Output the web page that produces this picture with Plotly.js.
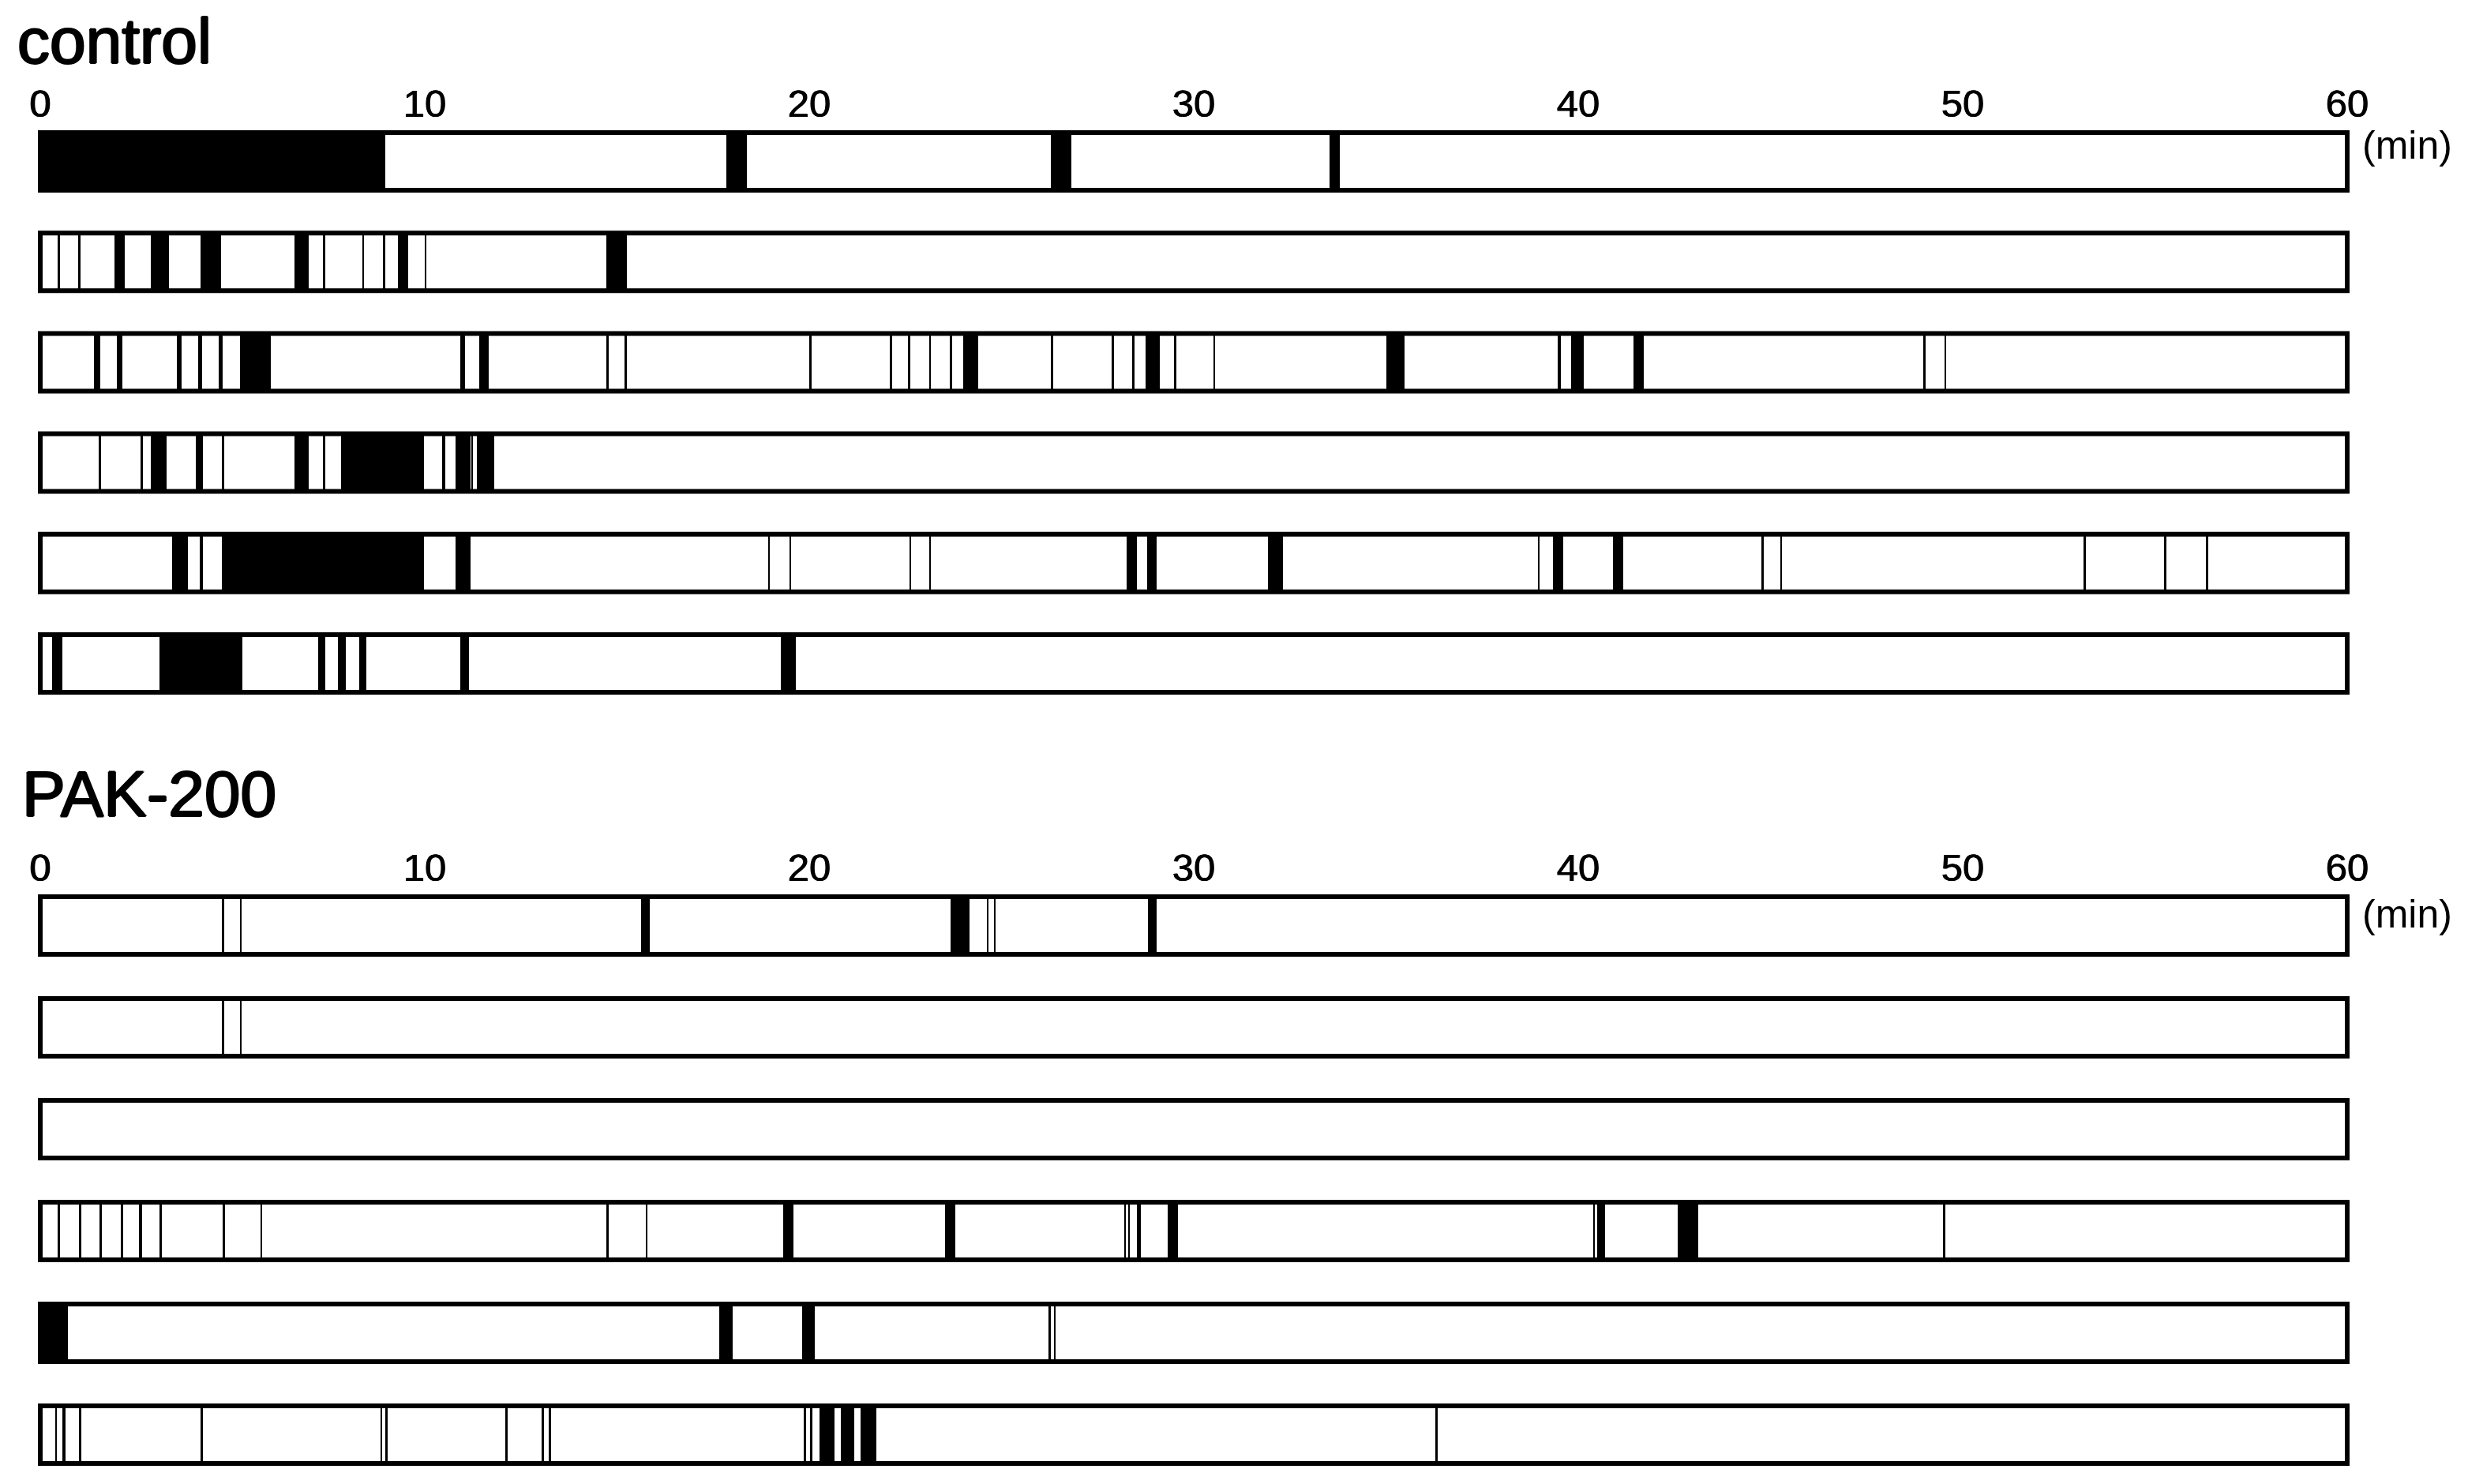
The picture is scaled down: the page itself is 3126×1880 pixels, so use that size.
<!DOCTYPE html>
<html>
<head>
<meta charset="utf-8">
<script src="https://cdn.plot.ly/plotly-3.0.1.min.js"></script>
<style>html,body{margin:0;padding:0;background:#fff;}</style>
</head>
<body>
<div id="chart" style="width:3126px;height:1880px;"></div>
<script>
// ---------------- data (minutes) ----------------
const timeTicks = [0, 10, 20, 30, 40, 50, 60];
const sessionLength = 60;
const groupNames = ['control', 'PAK-200'];
const unitLabel = '(min)';

// each event: [start, end] in minutes
const control1 = [[0, 8.97], [17.84, 18.37], [26.28, 26.82], [33.53, 33.80]];
const control2 = [[0.46, 0.51], [0.99, 1.05], [1.94, 2.20], [2.87, 3.35], [4.16, 4.70], [6.61, 6.99],
                  [7.35, 7.42], [8.37, 8.42], [8.92, 8.97], [9.30, 9.56], [9.99, 10.05], [14.72, 15.26]];
const control3 = [[1.40, 1.57], [2.00, 2.14], [3.56, 3.67], [4.10, 4.21], [4.64, 4.75], [5.19, 5.99],
                  [10.93, 11.05], [11.42, 11.67], [14.73, 14.78], [15.20, 15.25], [20.01, 20.06],
                  [22.10, 22.15], [22.57, 22.62], [23.12, 23.17], [23.66, 23.71], [24.00, 24.39],
                  [26.29, 26.35], [27.86, 27.92], [28.40, 28.45], [28.74, 29.11], [29.49, 29.54],
                  [30.51, 30.56], [35.02, 35.48], [39.47, 39.54], [39.81, 40.14], [41.44, 41.70],
                  [48.98, 49.04], [49.52, 49.57]];
const control4 = [[1.52, 1.58], [2.61, 2.67], [2.87, 3.28], [4.04, 4.23], [4.72, 4.78], [6.61, 6.99],
                  [7.35, 7.42], [7.82, 9.97], [10.46, 10.53], [10.80, 11.19], [11.21, 11.26], [11.35, 11.81]];
const control5 = [[3.42, 3.83], [4.15, 4.23], [4.72, 9.97], [10.80, 11.19], [18.93, 18.98], [19.48, 19.53],
                  [22.60, 22.65], [23.12, 23.17], [28.25, 28.52], [28.78, 29.04], [31.92, 32.32],
                  [38.95, 39.00], [39.34, 39.60], [40.91, 41.18], [44.76, 44.82], [45.25, 45.30],
                  [53.14, 53.20], [55.24, 55.30], [56.32, 56.38]];
const control6 = [[0.30, 0.58], [3.10, 5.25], [7.22, 7.41], [7.75, 7.94], [8.30, 8.48], [10.93, 11.14],
                  [19.26, 19.65]];

const pak1 = [[4.73, 4.78], [5.19, 5.24], [15.62, 15.85], [23.67, 24.17], [24.62, 24.67], [24.80, 24.85],
              [28.81, 29.04]];
const pak2 = [[4.73, 4.78], [5.19, 5.24]];
const pak3 = [];
const pak4 = [[0.46, 0.51], [1.01, 1.06], [1.55, 1.60], [2.10, 2.15], [2.56, 2.65], [3.11, 3.16],
              [4.75, 4.80], [5.73, 5.78], [14.73, 14.78], [15.75, 15.80], [19.32, 19.59], [23.53, 23.79],
              [28.20, 28.24], [28.30, 28.34], [28.52, 28.62], [29.33, 29.59], [40.38, 40.43],
              [40.49, 40.69], [42.59, 43.13], [49.49, 49.54]];
const pak5 = [[0, 0.72], [17.65, 18.01], [19.81, 20.14], [26.23, 26.29], [26.36, 26.41]];
const pak6 = [[0.38, 0.43], [0.58, 0.65], [1.01, 1.06], [4.17, 4.23], [8.85, 8.90], [8.98, 9.04],
              [12.10, 12.15], [13.04, 13.10], [13.23, 13.28], [19.85, 19.91], [20.03, 20.08],
              [20.27, 20.66], [20.82, 21.18], [21.34, 21.74], [36.29, 36.34]];

const controlRows = [control1, control2, control3, control4, control5, control6];
const pakRows = [pak1, pak2, pak3, pak4, pak5, pak6];

// ---------------- layout constants (pixels) ----------------
const W = 3126, H = 1880;
const plotLeft = 48, plotRight = 2976, borderW = 6;
const pxPerMin = (plotRight - plotLeft - borderW) / sessionLength;
const pad = (borderW / 2) / pxPerMin;
const py = v => 1 - v / H;

const panels = [
  {rows: controlRows, top: 165, step: 127.2, xa: 'x', ya: 'y'},
  {rows: pakRows, top: 1133, step: 129, xa: 'x2', ya: 'y2'}
];
const barPx = 73;

const traces = [];
panels.forEach(p => {
  const w = barPx / p.step;
  traces.push({
    type: 'bar', orientation: 'h', xaxis: p.xa, yaxis: p.ya,
    y: p.rows.map((r, i) => i), x: p.rows.map(() => sessionLength), base: p.rows.map(() => 0),
    width: w, marker: {color: '#ffffff', line: {color: '#000000', width: borderW}},
    hoverinfo: 'skip', showlegend: false
  });
  const y = [], x = [], base = [];
  p.rows.forEach((row, i) => row.forEach(ev => { y.push(i); base.push(ev[0]); x.push(ev[1] - ev[0]); }));
  traces.push({
    type: 'bar', orientation: 'h', xaxis: p.xa, yaxis: p.ya,
    y: y, x: x, base: base, width: w,
    marker: {color: '#000000', line: {width: 0}},
    hoverinfo: 'skip', showlegend: false
  });
});

const tickFont = {family: 'Liberation Sans, Arial, sans-serif', size: 49, color: '#000',
                  shadow: '0.6px 0 0 #000, -0.6px 0 0 #000'};

function xAxis(anchor) {
  return {
    domain: [plotLeft / W, plotRight / W], range: [-pad, sessionLength + pad],
    side: 'top', anchor: anchor, tickmode: 'array', tickvals: timeTicks,
    ticktext: timeTicks.map(String), ticks: '', showgrid: false, zeroline: false, showline: false,
    ticklabelstandoff: 6, tickfont: tickFont, fixedrange: true
  };
}
function yAxis(p) {
  const half = (barPx / 2 + borderW / 2) / p.step;
  const n = p.rows.length;
  const bottomPx = p.top + ((n - 1) + 2 * half) * p.step;
  return {
    domain: [py(bottomPx), py(p.top)], range: [n - 1 + half, -half],
    visible: false, showgrid: false, zeroline: false, fixedrange: true
  };
}

const titleFont = {family: 'Liberation Sans, Arial, sans-serif', size: 82, color: '#000',
                   shadow: '1.2px 0 0 #000, -1.2px 0 0 #000, 0 0.8px 0 #000, 0 -0.8px 0 #000'};
const unitFont = {family: 'Liberation Sans, Arial, sans-serif', size: 50, color: '#000'};

const layout = {
  width: W, height: H, margin: {l: 0, r: 0, t: 0, b: 0},
  paper_bgcolor: '#ffffff', plot_bgcolor: 'rgba(0,0,0,0)',
  barmode: 'overlay', bargap: 0, showlegend: false,
  xaxis: xAxis('y'), yaxis: yAxis(panels[0]),
  xaxis2: xAxis('y2'), yaxis2: yAxis(panels[1]),
  annotations: [
    {text: groupNames[0], xref: 'paper', yref: 'paper', x: 20 / W, y: py(52), xanchor: 'left', yanchor: 'middle', showarrow: false, font: titleFont},
    {text: groupNames[1], xref: 'paper', yref: 'paper', x: 26 / W, y: py(1006), xanchor: 'left', yanchor: 'middle', showarrow: false, font: titleFont},
    {text: unitLabel, xref: 'paper', yref: 'paper', x: 2990 / W, y: py(184), xanchor: 'left', yanchor: 'middle', showarrow: false, font: unitFont},
    {text: unitLabel, xref: 'paper', yref: 'paper', x: 2990 / W, y: py(1158), xanchor: 'left', yanchor: 'middle', showarrow: false, font: unitFont}
  ]
};

Plotly.newPlot('chart', traces, layout, {displayModeBar: false, staticPlot: true});
</script>
</body>
</html>
